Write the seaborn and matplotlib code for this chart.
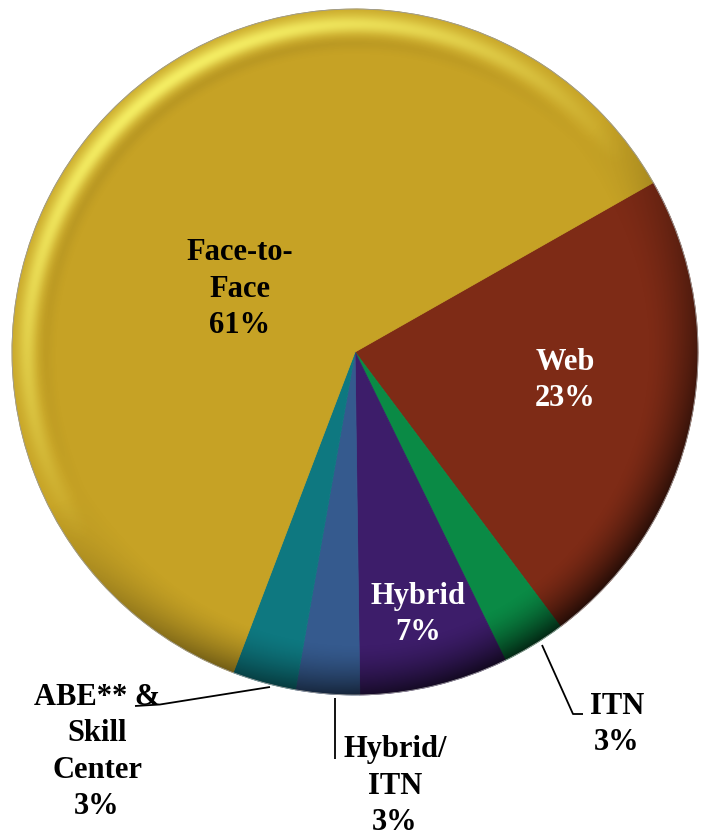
import numpy as np
import matplotlib
matplotlib.use("Agg")
import matplotlib.pyplot as plt
from matplotlib.patches import Circle
import seaborn as sns

# Share of course sections by delivery mode
categories = ["Web", "ITN", "Hybrid", "Hybrid/ITN", "ABE** & Skill Center", "Face-to-Face"]
label_names = ["Web", "ITN", "Hybrid", "Hybrid/\nITN", "ABE** &\nSkill\nCenter", "Face-to-\nFace"]
shares = [23, 3, 7, 3, 3, 61]
colors = ["#7E2B16", "#0A8A45", "#3D1D6A", "#355A8E", "#0E7880", "#C6A225"]
text_colors = ["white", "black", "white", "black", "black", "black"]

W, H = 701, 837
cx, cy, R = 355, 353, 343

sns.set_theme(style="white")
plt.rcParams["font.family"] = ["Liberation Serif", "DejaVu Serif"]

fig = plt.figure(figsize=(W / 100, H / 100), dpi=100)
ax = fig.add_axes([0, 0, 1, 1])

wedges, _ = ax.pie(shares, colors=colors, startangle=29.6, counterclock=False,
                   center=(cx, -cy), radius=R,
                   wedgeprops=dict(linewidth=0.6, antialiased=True))
for w, c in zip(wedges, colors):
    w.set_edgecolor(c)
ax.set_aspect("auto")
ax.set_xlim(0, W)
ax.set_ylim(-H, 0)
ax.axis("off")

# Bevelled rim: highlight towards the upper left, shadow towards the lower right
yy, xx = np.mgrid[0:H, 0:W] + 0.5
dx = (xx - cx) / R
dy = (cy - yy) / R
r = np.hypot(dx, dy)
theta = np.arctan2(dy, dx)
cosl = np.cos(theta - np.deg2rad(125))
band = np.clip((r - 0.85) / 0.15, 0, 1)
hi = np.exp(-((r - 0.952) / 0.026) ** 2) * np.clip(cosl, 0, None) * 0.65
hi += np.exp(-((r - 0.975) / 0.03) ** 2) * np.clip(cosl, 0, None) * 0.25
sh = band ** 1.6 * np.clip(-cosl + 0.15, 0, None) * 0.62
sh += np.exp(-((r - 0.90) / 0.02) ** 2) * np.clip(cosl, 0, None) * 0.06
sh = np.clip(sh, 0, 0.75)

light = np.zeros((H, W, 4))
light[..., 0] = 1.0
light[..., 1] = 1.0
light[..., 2] = 0.45
light[..., 3] = np.clip(hi, 0, 1)
dark = np.zeros((H, W, 4))
dark[..., 3] = sh

clip = Circle((cx, -cy), R, transform=ax.transData)
for img in (dark, light):
    im = ax.imshow(img, extent=(0, W, -H, 0), origin="upper", interpolation="bilinear", zorder=3)
    im.set_clip_path(clip)
ax.add_patch(Circle((cx, -cy), R, facecolor="none", edgecolor="#9a9a9a", lw=0.6, zorder=4))
ax.set_xlim(0, W)
ax.set_ylim(-H, 0)

# Label anchors (centre x, last-line baseline y) in pixels
label_pos = [(565, 406), (617, 750), (418, 640), (395, 830), (97, 814), (240, 333)]
for name, val, (px, py), tc in zip(label_names, shares, label_pos, text_colors):
    ax.text(px, -py, f"{name}\n{val}%", ha="center", va="baseline", color=tc,
            fontsize=22, fontweight="bold", linespacing=1.33, zorder=6)

# Leader lines for the narrow slices
leaders = [
    [(542, 646), (573, 715), (583, 715)],
    [(335, 699), (335, 760)],
    [(270, 688), (160, 705.5), (135, 707)],
]
for pts in leaders:
    xs = [p[0] for p in pts]
    ys = [-p[1] for p in pts]
    ax.plot(xs, ys, color="black", lw=1.3, zorder=5, solid_capstyle="butt")

fig.savefig("out.png", dpi=100)
